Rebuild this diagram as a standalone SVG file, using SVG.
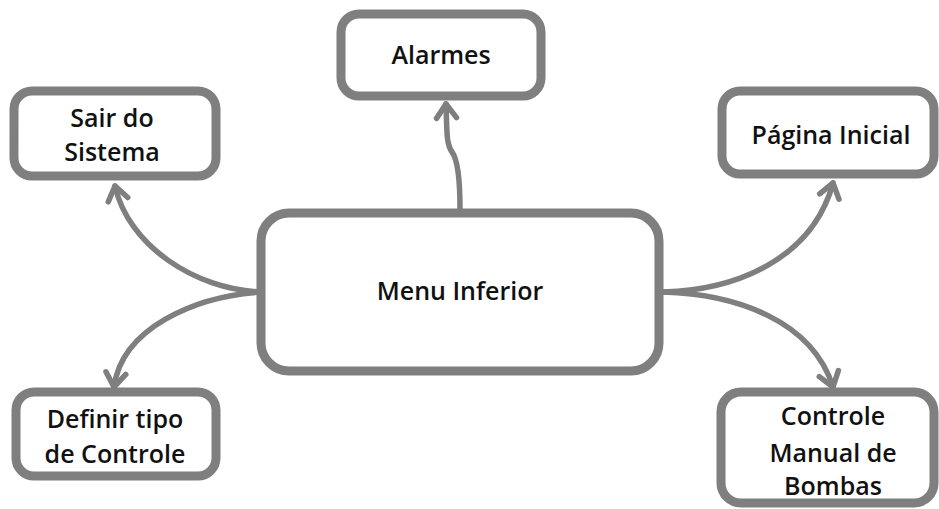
<svg xmlns="http://www.w3.org/2000/svg" width="939" height="509" viewBox="0 0 939 509">
  <defs>
    <marker id="chevron" markerUnits="userSpaceOnUse" markerWidth="30" markerHeight="30" refX="2" refY="15" orient="auto" overflow="visible">
      <path d="M-12,5 L2,15 L-12,25" fill="none" stroke="#7f7f7f" stroke-width="5.5" stroke-linecap="round" stroke-linejoin="round"/>
    </marker>
    <style>
      .box { fill: #ffffff; stroke: #7f7f7f; stroke-width: 9; }
      .label { font-family: "Open Sans", "Liberation Sans", sans-serif; font-weight: 600; font-size: 25px; fill: #111111; text-anchor: middle; }
      .link { fill: none; stroke: #7f7f7f; stroke-width: 5.5; stroke-linecap: round; marker-end: url(#chevron); }
    </style>
  </defs>

  <rect width="939" height="509" fill="#ffffff"/>

  <g id="connectors">
    <path class="link" d="M262,292 C195,290 128,245 115,186"/>
    <path class="link" d="M262,292 C195,296 122,328 114,387"/>
    <path class="link" d="M460,209 C460,180 458,160 452,152 C446,144 447,130 446,104"/>
    <path class="link" d="M663,292 C735,290 812,260 833,183"/>
    <path class="link" d="M663,292 C735,294 812,320 833,387"/>
  </g>

  <g id="node-menu-inferior">
    <rect class="box" x="261" y="213" width="398" height="158" rx="28"/>
    <text class="label" x="460" y="300">Menu Inferior</text>
  </g>

  <g id="node-alarmes">
    <rect class="box" x="341" y="14" width="200" height="82" rx="18"/>
    <text class="label" x="441" y="64">Alarmes</text>
  </g>

  <g id="node-sair">
    <rect class="box" x="14" y="91" width="202" height="85" rx="18"/>
    <text class="label" x="112" y="127">Sair do</text>
    <text class="label" x="112" y="161">Sistema</text>
  </g>

  <g id="node-definir">
    <rect class="box" x="16" y="392" width="200" height="84" rx="18"/>
    <text class="label" x="115" y="428">Definir tipo</text>
    <text class="label" x="115" y="463">de Controle</text>
  </g>

  <g id="node-pagina">
    <rect class="box" x="722" y="91" width="212" height="83" rx="18"/>
    <text class="label" x="831" y="144">Página Inicial</text>
  </g>

  <g id="node-controle">
    <rect class="box" x="721" y="392" width="213" height="111" rx="20"/>
    <text class="label" x="833" y="425">Controle</text>
    <text class="label" x="833" y="462">Manual de</text>
    <text class="label" x="833" y="495">Bombas</text>
  </g>
</svg>
